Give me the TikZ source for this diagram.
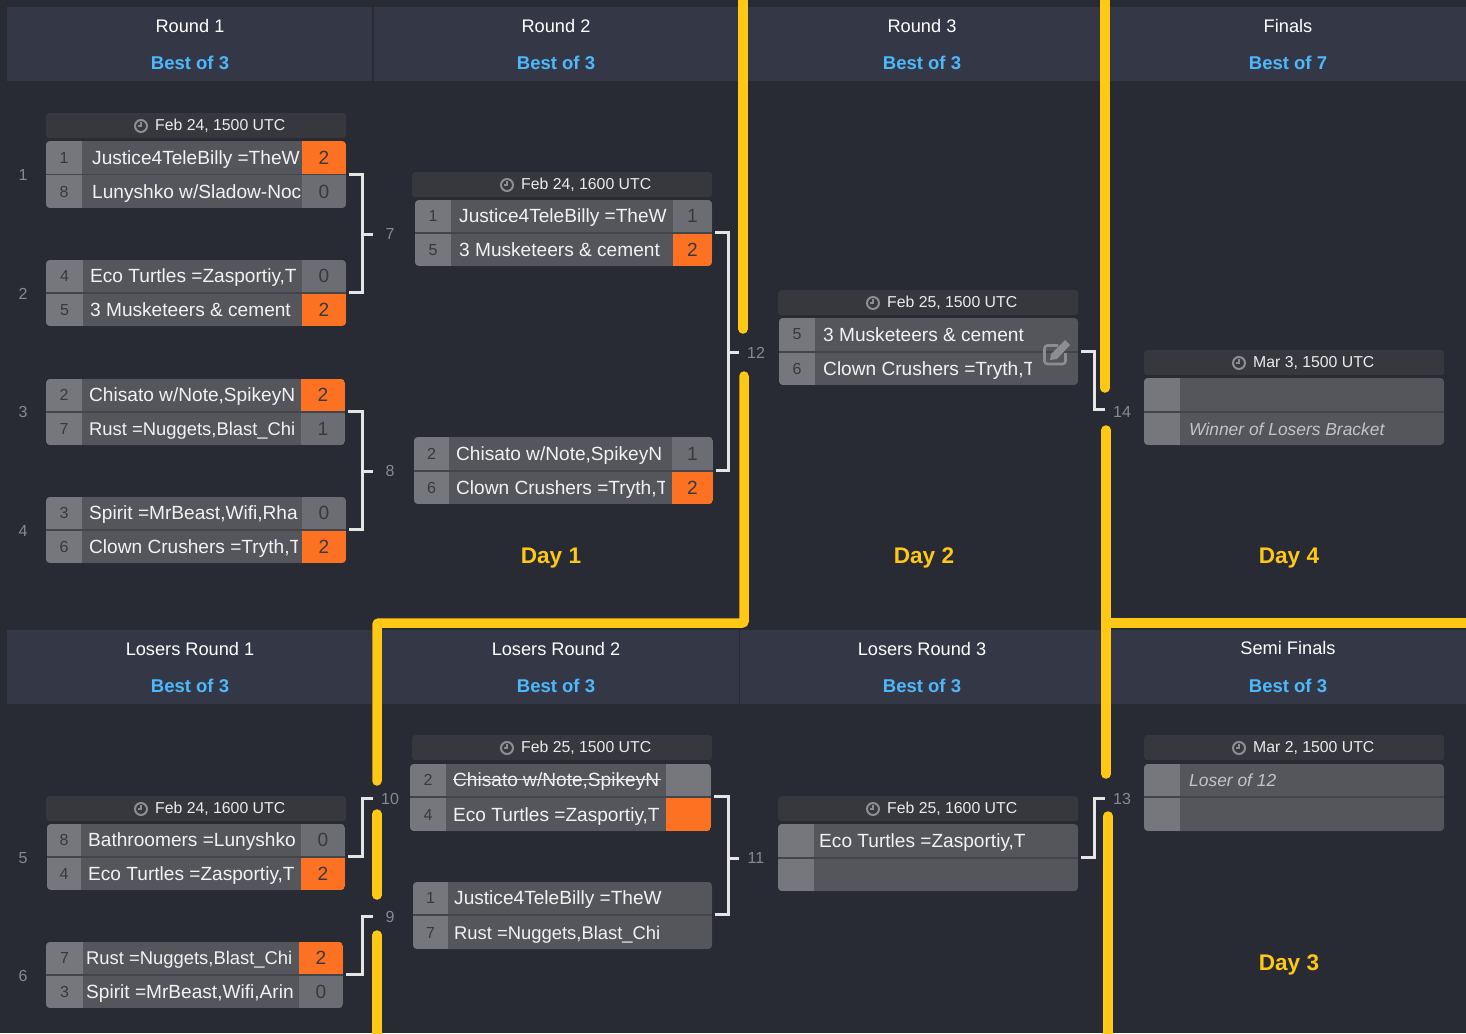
\documentclass[tikz,border=0pt]{standalone}
\usepackage{fontspec}
\setmainfont{Liberation Sans}
\usepackage{tikz}
\usetikzlibrary{positioning}

\definecolor{pagebg}{HTML}{282A34}
\definecolor{bandbg}{HTML}{343846}
\definecolor{bandline}{HTML}{2A2D38}
\definecolor{headbg}{HTML}{37383E}
\definecolor{rowbg}{HTML}{55565C}
\definecolor{rowline}{HTML}{44454B}
\definecolor{seedbg}{HTML}{76777C}
\definecolor{scorebg}{HTML}{6C6D72}
\definecolor{winbg}{HTML}{FD7122}
\definecolor{darknum}{HTML}{38393E}
\definecolor{sidenum}{HTML}{858A94}
\definecolor{bestblue}{HTML}{4DB8FB}
\definecolor{linkyellow}{HTML}{FEC815}
\definecolor{iconline}{HTML}{8C8D92}
\definecolor{vacant}{HTML}{C4C4C6}

\tikzset{
    band/.style={anchor=north west, fill=bandbg, minimum height=74pt, inner sep=0pt},
    roundtitle/.style={inner sep=0pt, text=white, font=\fontsize{18.2}{20}\selectfont},
    bestof/.style={inner sep=0pt, text=bestblue, font=\fontsize{18.5}{20}\selectfont\bfseries},
    dayname/.style={inner sep=0pt, text=linkyellow, font=\fontsize{22.6}{26}\selectfont\bfseries},
    sidelabel/.style={inner sep=0pt, minimum width=34pt, text=sidenum, font=\fontsize{16}{18}\selectfont},
    headbox/.style={anchor=north west, fill=headbg, rounded corners=3pt, inner sep=0pt},
    headtext/.style={anchor=west, inner sep=0pt, text=white!92!black, font=\fontsize{15.8}{18}\selectfont},
    rowbox/.style={anchor=north west, fill=rowbg, inner sep=0pt},
    seedtext/.style={inner sep=0pt, text=darknum, font=\fontsize{16}{18}\selectfont},
    teamtext/.style={anchor=base west, inner sep=0pt, text=white!95!black, font=\fontsize{19.1}{20}\selectfont},
    scoretext/.style={inner sep=0pt, text=darknum, font=\fontsize{19.1}{20}\selectfont},
    bracket/.style={draw=white!90!black, line width=3pt},
    yellowline/.style={draw=linkyellow, line width=9.5pt, line cap=round, rounded corners=2pt},
}

\newcommand{\vacantname}[1]{\fontsize{17.4}{20}\selectfont\itshape\color{vacant}#1}
\newcommand{\tightname}[1]{\fontsize{18.4}{20}\selectfont#1}
\newcommand{\matchhead}[5]{
    \node[headbox, minimum width={(#4)*1pt}, minimum height=25pt] (#1-head) at (#2,#3) {};
    \draw[iconline, line width=2pt] ({#2+95},{#3+13}) circle (6pt);
    \draw[iconline, line width=1.3pt] ({#2+95},{#3+9}) -- ({#2+95},{#3+13}) -- ({#2+91.5},{#3+13});
    \node[headtext] (#1-date) at ({#2+109},{#3+13}) {#5};
}
\newcommand{\matchat}[8]{
    \def\mxa{#1}\def\mxb{#2}\def\mya{#3}\def\myb{#4}\def\mxs{#5}\def\mxt{#6}\def\mxr{#7}\def\mxe{#8}
    \fill[rowline, rounded corners=4pt] (#1,#3) rectangle (#2,#4);
}
\newcommand{\teamrow}[7]{
    \begin{scope}
        \clip[rounded corners=4pt] (\mxa,\mya) rectangle (\mxb,\myb);
        \node[rowbox, minimum width={(\mxb-\mxa)*1pt}, minimum height={(#3-#2)*1pt}] (#1) at (\mxa,#2) {};
        \fill[seedbg] (\mxa,#2) rectangle (\mxs,#3);
        \fill[#7] (\mxr,#2) rectangle (\mxb,#3);
    \end{scope}
    \node[seedtext] (#1-seed) at ({(\mxa+\mxs)/2},{(#2+#3)/2}) {#4};
    \begin{scope}
        \clip (\mxt-3,#2) rectangle (\mxe,#3);
        \node[teamtext] (#1-team) at (\mxt,#3-10) {#5};
    \end{scope}
    \node[scoretext] (#1-score) at ({(\mxr+\mxb)/2},{(#2+#3)/2}) {#6};
}

\begin{document}
\begin{tikzpicture}[x=1pt,y=-1pt]
        \useasboundingbox[fill=pagebg] (0,0) rectangle (1466,1033);

        \node[band, minimum width=365pt] (upper1) at (7,7) {};
        \node[band, minimum width=365pt, right=1pt of upper1] (upper2) {};
        \node[band, minimum width=365pt, right=1pt of upper2] (upper3) {};
        \node[band, minimum width=362pt, right=1pt of upper3] (upper4) {};
        \node[band, minimum width=365pt] (lower1) at (7,630) {};
        \node[band, minimum width=365pt, right=1pt of lower1] (lower2) {};
        \node[band, minimum width=365pt, right=1pt of lower2] (lower3) {};
        \node[band, minimum width=362pt, right=1pt of lower3] (lower4) {};

        \node[roundtitle] (title1) at (190,26) {Round 1};
        \node[roundtitle] (title2) at (556,26) {Round 2};
        \node[roundtitle] (title3) at (922,26) {Round 3};
        \node[roundtitle] (title4) at (1288,26) {Finals};
        \node[bestof] (best1) at (190,63) {Best of 3};
        \node[bestof] (best2) at (556,63) {Best of 3};
        \node[bestof] (best3) at (922,63) {Best of 3};
        \node[bestof] (best4) at (1288,63) {Best of 7};
        \node[roundtitle] (title5) at (190,649) {Losers Round 1};
        \node[roundtitle] (title6) at (556,649) {Losers Round 2};
        \node[roundtitle] (title7) at (922,649) {Losers Round 3};
        \node[roundtitle] (title8) at (1288,648) {Semi Finals};
        \node[bestof] (best5) at (190,686) {Best of 3};
        \node[bestof] (best6) at (556,686) {Best of 3};
        \node[bestof] (best7) at (922,686) {Best of 3};
        \node[bestof] (best8) at (1288,686) {Best of 3};

        \node[sidelabel] (seat1) at (23,175) {1};
        \node[sidelabel] (seat2) at (23,294) {2};
        \node[sidelabel] (seat3) at (23,412) {3};
        \node[sidelabel] (seat4) at (23,531) {4};
        \node[sidelabel] (seat5) at (23,858) {5};
        \node[sidelabel] (seat6) at (23,976) {6};

        \matchhead{m1}{46}{113}{300}{Feb 24, 1500 UTC}
        \matchat{46}{346}{141}{208}{82}{92}{302}{300}
        \teamrow{m1a}{141}{174}{1}{Justice4TeleBilly =TheW}{2}{winbg}
        \teamrow{m1b}{175}{208}{8}{Lunyshko w/Sladow-Noc}{0}{scorebg}

        \matchat{46}{346}{260}{326}{83}{90}{302}{298}
        \teamrow{m2a}{260}{292}{4}{Eco Turtles =Zasportiy,T}{0}{scorebg}
        \teamrow{m2b}{294}{326}{5}{3 Musketeers \& cement}{2}{winbg}

        \matchat{46}{345}{379}{445}{82}{89}{301}{297}
        \teamrow{m3a}{379}{411}{2}{Chisato w/Note,SpikeyN}{2}{winbg}
        \teamrow{m3b}{413}{445}{7}{\tightname{Rust =Nuggets,Blast\_Chi}}{1}{scorebg}

        \matchat{46}{346}{497}{563}{82}{89}{302}{297}
        \teamrow{m4a}{497}{529}{3}{Spirit =MrBeast,Wifi,Rha}{0}{scorebg}
        \teamrow{m4b}{531}{563}{6}{Clown Crushers =Tryth,T}{2}{winbg}

        \matchhead{m5}{46}{796}{300}{Feb 24, 1600 UTC}
        \matchat{47}{345}{824}{890}{81}{88}{301}{296}
        \teamrow{m5a}{824}{856}{8}{Bathroomers =Lunyshko}{0}{scorebg}
        \teamrow{m5b}{858}{890}{4}{Eco Turtles =Zasportiy,T}{2}{winbg}

        \matchat{46}{343}{942}{1008}{83}{86}{299}{294}
        \teamrow{m6a}{942}{974}{7}{\tightname{Rust =Nuggets,Blast\_Chi}}{2}{winbg}
        \teamrow{m6b}{976}{1008}{3}{Spirit =MrBeast,Wifi,Arin}{0}{scorebg}

        \matchhead{m7}{412}{172}{300}{Feb 24, 1600 UTC}
        \matchat{415}{712}{200}{266}{451}{459}{673}{666}
        \teamrow{m7a}{200}{232}{1}{Justice4TeleBilly =TheW}{1}{scorebg}
        \teamrow{m7b}{234}{266}{5}{3 Musketeers \& cement}{2}{winbg}

        \matchat{414}{713}{437}{504}{449}{456}{672}{664}
        \teamrow{m8a}{437}{470}{2}{Chisato w/Note,SpikeyN}{1}{scorebg}
        \teamrow{m8b}{472}{504}{6}{Clown Crushers =Tryth,T}{2}{winbg}

        \matchhead{m9}{778}{290}{300}{Feb 25, 1500 UTC}
        \matchat{779}{1078}{318}{385}{815}{823}{1078}{1031}
        \teamrow{m9a}{318}{351}{5}{3 Musketeers \& cement}{}{rowbg}
        \teamrow{m9b}{353}{385}{6}{Clown Crushers =Tryth,T}{}{rowbg}
        \draw[iconline, line width=2.6pt, rounded corners=3pt] (1058,345.5) -- (1044.5,345.5) -- (1044.5,364) -- (1065.5,364) -- (1065.5,353);
        \fill[iconline] (1050,360) -- (1051,354) -- (1063,342) -- (1065,340) -- (1070,345) -- (1057,359) -- cycle;

        \matchhead{m10}{412}{735}{300}{Feb 25, 1500 UTC}
        \matchat{410}{711}{764}{831}{446}{453}{666}{661}
        \teamrow{m10a}{764}{796}{2}{Chisato w/Note,SpikeyN}{}{seedbg}
        \teamrow{m10b}{798}{831}{4}{Eco Turtles =Zasportiy,T}{}{winbg}
        \draw[white!90!black, line width=1.2pt] (453,779.5) -- (661,779.5);

        \matchat{413}{712}{882}{949}{448}{454}{712}{662}
        \teamrow{m11a}{882}{914}{1}{Justice4TeleBilly =TheW}{}{rowbg}
        \teamrow{m11b}{916}{949}{7}{\tightname{Rust =Nuggets,Blast\_Chi}}{}{rowbg}

        \matchhead{m12}{778}{796}{300}{Feb 25, 1600 UTC}
        \matchat{778}{1078}{824}{891}{814}{819}{1078}{1030}
        \teamrow{m12a}{824}{857}{}{Eco Turtles =Zasportiy,T}{}{rowbg}
        \teamrow{m12b}{859}{891}{}{}{}{rowbg}

        \matchhead{m13}{1144}{350}{300}{Mar 3, 1500 UTC}
        \matchat{1144}{1444}{378}{445}{1180}{1189}{1444}{1400}
        \teamrow{m13a}{378}{411}{}{}{}{rowbg}
        \teamrow{m13b}{413}{445}{}{\vacantname{Winner of Losers Bracket}}{}{rowbg}

        \matchhead{m14}{1144}{735}{300}{Mar 2, 1500 UTC}
        \matchat{1144}{1444}{764}{831}{1180}{1189}{1444}{1400}
        \teamrow{m14a}{764}{796}{}{\vacantname{Loser of 12}}{}{rowbg}
        \teamrow{m14b}{798}{831}{}{}{}{rowbg}

        \node[dayname] (day1) at (551,558) {Day 1};
        \node[dayname] (day2) at (924,558) {Day 2};
        \node[dayname] (day4) at (1289,558) {Day 4};
        \node[dayname] (day3) at (1289,965) {Day 3};

        \node[sidelabel] (game7) at (390,234) {7};
        \node[sidelabel] (game8) at (390,471) {8};
        \node[sidelabel] (game12) at (756,352.5) {12};
        \node[sidelabel] (game14) at (1122,412) {14};
        \node[sidelabel] (game10) at (390,798.5) {10};
        \node[sidelabel] (game9) at (390,916.5) {9};
        \node[sidelabel] (game11) at (756,858) {11};
        \node[sidelabel] (game13) at (1122,798.5) {13};

        \coordinate (join7) at (362,234);
        \coordinate (join8) at (362,471);
        \coordinate (join12) at (728,352.5);
        \coordinate (join14) at (1094,409);
        \coordinate (join10) at (362,798.5);
        \coordinate (join9) at (362,916.5);
        \coordinate (join11) at (728,858);
        \coordinate (join13) at (1094,798.5);

        \draw[bracket, shorten <=3pt] (m1a.south east) -| (join7);
        \draw[bracket, shorten >=3pt] (join7) |- (m2a.south east);
        \draw[bracket] (join7) -- (game7.west);
        \draw[bracket, shorten <=3pt] (m3a.south east) -| (join8);
        \draw[bracket, shorten >=3pt] (join8) |- (m4a.south east);
        \draw[bracket] (join8) -- (game8.west);
        \draw[bracket, shorten <=3pt] (m7a.south east) -| (join12);
        \draw[bracket, shorten >=3pt] (join12) |- (m8a.south east);
        \draw[bracket] (join12) -- (game12.west);
        \draw[bracket, shorten <=3pt] (m9a.south east) -| (join14) -- (game14.west |- join14);
        \draw[bracket, shorten <=3pt] (m5a.south east) -| (join10) -- (game10.west);
        \draw[bracket, shorten <=3pt] (m6a.south east) -| (join9) -- (game9.west);
        \draw[bracket, shorten <=3pt] (m10a.south east) -| (join11);
        \draw[bracket, shorten >=3pt] (join11) |- (m11a.south east);
        \draw[bracket] (join11) -- (game11.west);
        \draw[bracket, shorten <=3pt] (m12a.south east) -| (join13) -- (game13.west);

        \coordinate (topA) at (743,-8);
        \coordinate (stopA) at (743,329);
        \coordinate (startB) at (744,376);
        \coordinate (turnB) at (744,623);
        \coordinate (turnC) at (377,623);
        \coordinate (stopC) at (377,781);
        \coordinate (startD) at (377,814);
        \coordinate (stopD) at (377,895);
        \coordinate (startE) at (377,935);
        \coordinate (endE) at (377,1041);
        \coordinate (topF) at (1105,-8);
        \coordinate (stopF) at (1105,388);
        \coordinate (startG) at (1106,430);
        \coordinate (stopG) at (1106,774);
        \coordinate (branchG) at (1106,623);
        \coordinate (endG) at (1474,623);
        \coordinate (startH) at (1108,816);
        \coordinate (endH) at (1108,1041);

        \draw[yellowline] (topA) -- (stopA);
        \draw[yellowline] (startB) -- (turnB) -- (turnC) -- (stopC);
        \draw[yellowline] (startD) -- (stopD);
        \draw[yellowline] (startE) -- (endE);
        \draw[yellowline] (topF) -- (stopF);
        \draw[yellowline] (startG) -- (stopG);
        \draw[yellowline] (branchG) -- (endG);
        \draw[yellowline] (startH) -- (endH);
\end{tikzpicture}
\end{document}
